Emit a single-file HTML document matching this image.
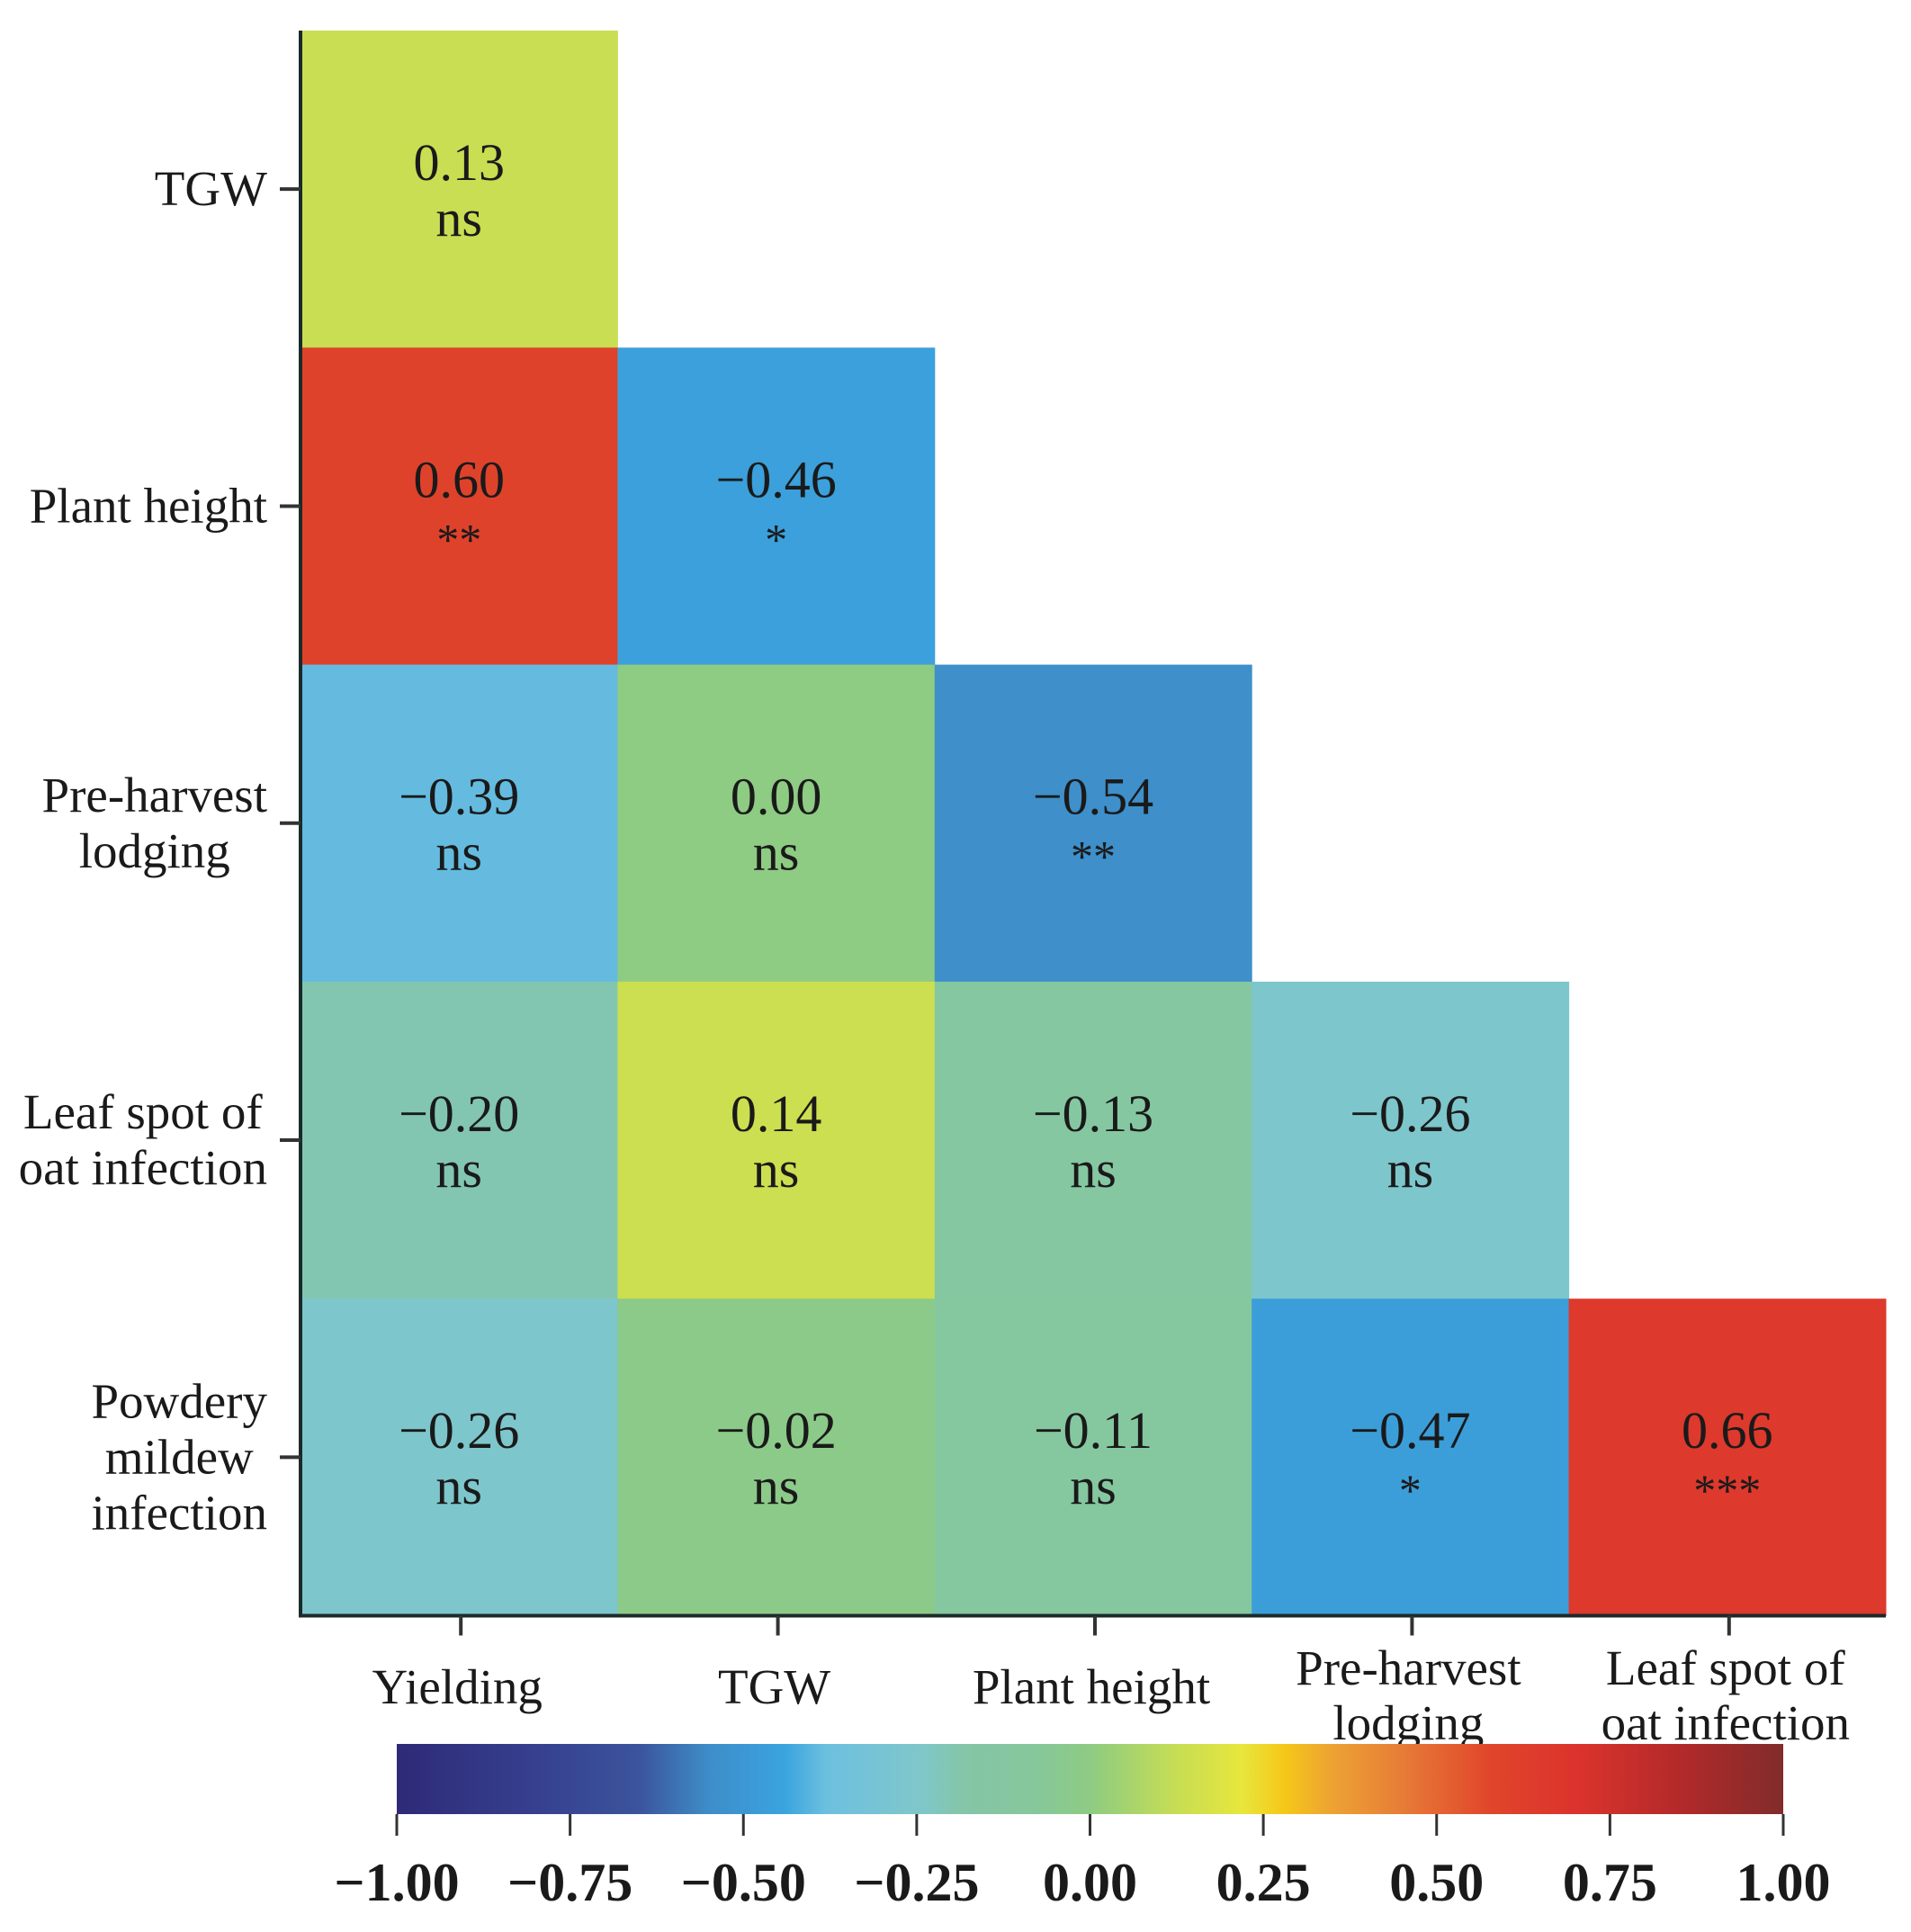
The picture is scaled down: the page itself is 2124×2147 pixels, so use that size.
<!DOCTYPE html>
<html><head><meta charset="utf-8"><style>
html,body{margin:0;padding:0;background:#fff}
svg{display:block;font-family:"Liberation Serif",serif}
</style></head><body>
<svg id="chart" width="2124" height="2147" viewBox="0 0 2124 2147">
<defs><linearGradient id="cbg" x1="0" x2="1" y1="0" y2="0"></linearGradient></defs>
<g id="cells"></g><g id="axes"></g><g id="cbar"></g>
</svg>
<script>
const xCats = ["Yielding","TGW","Plant height","Pre-harvest|lodging","Leaf spot of|oat infection"];
const yCats = ["TGW","Plant height","Pre-harvest|lodging","Leaf spot of|oat infection","Powdery|mildew|infection"];
const values = [
 [0.13],
 [0.60,-0.46],
 [-0.39,0.00,-0.54],
 [-0.20,0.14,-0.13,-0.26],
 [-0.26,-0.02,-0.11,-0.47,0.66]
];
const signif = [
 ["ns"],
 ["**","*"],
 ["ns","ns","**"],
 ["ns","ns","ns","ns"],
 ["ns","ns","ns","*","***"]
];
const cbTicks = [-1,-0.75,-0.5,-0.25,0,0.25,0.5,0.75,1];
const cbTickLabels = ["\u22121.00","\u22120.75","\u22120.50","\u22120.25","0.00","0.25","0.50","0.75","1.00"];

const NS="http://www.w3.org/2000/svg";
const stops=[[-1,"#2e2a78"],[-0.8,"#36408e"],[-0.65,"#3b549c"],[-0.55,"#3e8dc8"],[-0.5,"#3c97d4"],[-0.44,"#3aa4de"],[-0.38,"#6cc0df"],[-0.3,"#78c4d4"],[-0.24,"#7fc7c8"],[-0.18,"#84c6a6"],[-0.08,"#86c79c"],[0,"#8ecb83"],[0.06,"#a8d46c"],[0.12,"#c5dd55"],[0.22,"#e8e63c"],[0.28,"#f5c818"],[0.35,"#eda233"],[0.45,"#e77c37"],[0.58,"#e0452b"],[0.7,"#dc332c"],[0.85,"#b32a2a"],[1,"#822b2b"]];
function hex(c){return [1,3,5].map(i=>parseInt(c.substr(i,2),16));}
function color(v){
 for(let i=0;i<stops.length-1;i++){const[a,ca]=stops[i],[b,cb]=stops[i+1];
  if(v<=b){const t=(v-a)/(b-a),A=hex(ca),B=hex(cb);return "rgb("+A.map((x,k)=>Math.round(x+(B[k]-x)*t)).join(",")+")";}}
 return stops[stops.length-1][1];
}
const X0=334,CW=352.4,Y0=34,RH=352.3;
const xPos=i=>X0+i*CW, yPos=j=>Y0+j*RH;
function el(tag,attrs,parent,text){const e=document.createElementNS(NS,tag);for(const k in attrs)e.setAttribute(k,attrs[k]);if(text!=null)e.textContent=text;parent.appendChild(e);return e;}
const cells=document.getElementById("cells");
values.forEach((row,j)=>row.forEach((v,i)=>{
 const r=el("rect",{x:xPos(i),y:yPos(j),width:CW+0.5,height:RH+0.5,fill:color(v)},cells);
 
 
 const cx=xPos(i)+CW/2;
 const t=el("text",{x:cx,y:yPos(j)+166,"text-anchor":"middle","font-size":58,fill:"#1a1a1a"},cells,(v<0?"\u2212":"")+Math.abs(v).toFixed(2));
 
 
 const s=signif[j][i];
 const t2=el("text",{x:cx,y:yPos(j)+(s==="ns"?228:230),"text-anchor":"middle","font-size":s==="ns"?58:50,fill:"#1a1a1a"},cells,s);
 
 
}));
const axes=document.getElementById("axes");
const yBottom=Y0+5*RH;
const ya=el("line",{x1:X0,y1:Y0,x2:X0,y2:yBottom+2,stroke:"#1a2a2a","stroke-width":4},axes);

const xa=el("line",{x1:X0-2,y1:yBottom,x2:xPos(5),y2:yBottom,stroke:"#1a2a2a","stroke-width":4},axes);

xCats.forEach((c,i)=>{
 const cx=xPos(i)+CW/2+2;
 const tk=el("line",{x1:cx,y1:yBottom,x2:cx,y2:yBottom+22,stroke:"#333","stroke-width":4},axes);
 
 const lines=c.split("|");
 const startY=lines.length===1?1893:1872;
 lines.forEach((ln,k)=>{const t=el("text",{x:cx-4,y:startY+k*61,"text-anchor":"middle","font-size":55,fill:"#1a1a1a"},axes,ln);
  });
});
yCats.forEach((c,j)=>{
 const cy=yPos(j)+RH/2;
 const tk=el("line",{x1:X0-23,y1:cy,x2:X0,y2:cy,stroke:"#333","stroke-width":4},axes);
 
 const lines=c.split("|");
 const g=el("g",{},axes);
 
 const ts=lines.map((ln,k)=>el("text",{x:0,y:cy+18+(k-(lines.length-1)/2)*62,"text-anchor":"middle","font-size":55,fill:"#1a1a1a"},g,ln));
 const w=Math.max(...ts.map(t=>t.getComputedTextLength()));
 const right=297;
 ts.forEach(t=>t.setAttribute("x",right-w/2));
});
// colorbar
const grad=document.getElementById("cbg");
stops.forEach(([v,c])=>el("stop",{offset:((v+1)/2*100)+"%","stop-color":c},grad));
const cb=document.getElementById("cbar");
const CBX0=441,CBX1=1982,CBY=1938,CBH=78;
const cbx=v=>CBX0+(v+1)/2*(CBX1-CBX0);
const bar=el("rect",{x:CBX0,y:CBY,width:CBX1-CBX0,height:CBH,fill:"url(#cbg)"},cb);

cbTicks.forEach((v,i)=>{
 const tk=el("line",{x1:cbx(v),y1:CBY+CBH,x2:cbx(v),y2:CBY+CBH+24,stroke:"#333","stroke-width":3},cb);
 
 const t=el("text",{x:cbx(v),y:2112,"text-anchor":"middle","font-size":60,"font-weight":"bold",fill:"#1a1a1a"},cb,cbTickLabels[i]);
 
});
</script>
</body></html>
